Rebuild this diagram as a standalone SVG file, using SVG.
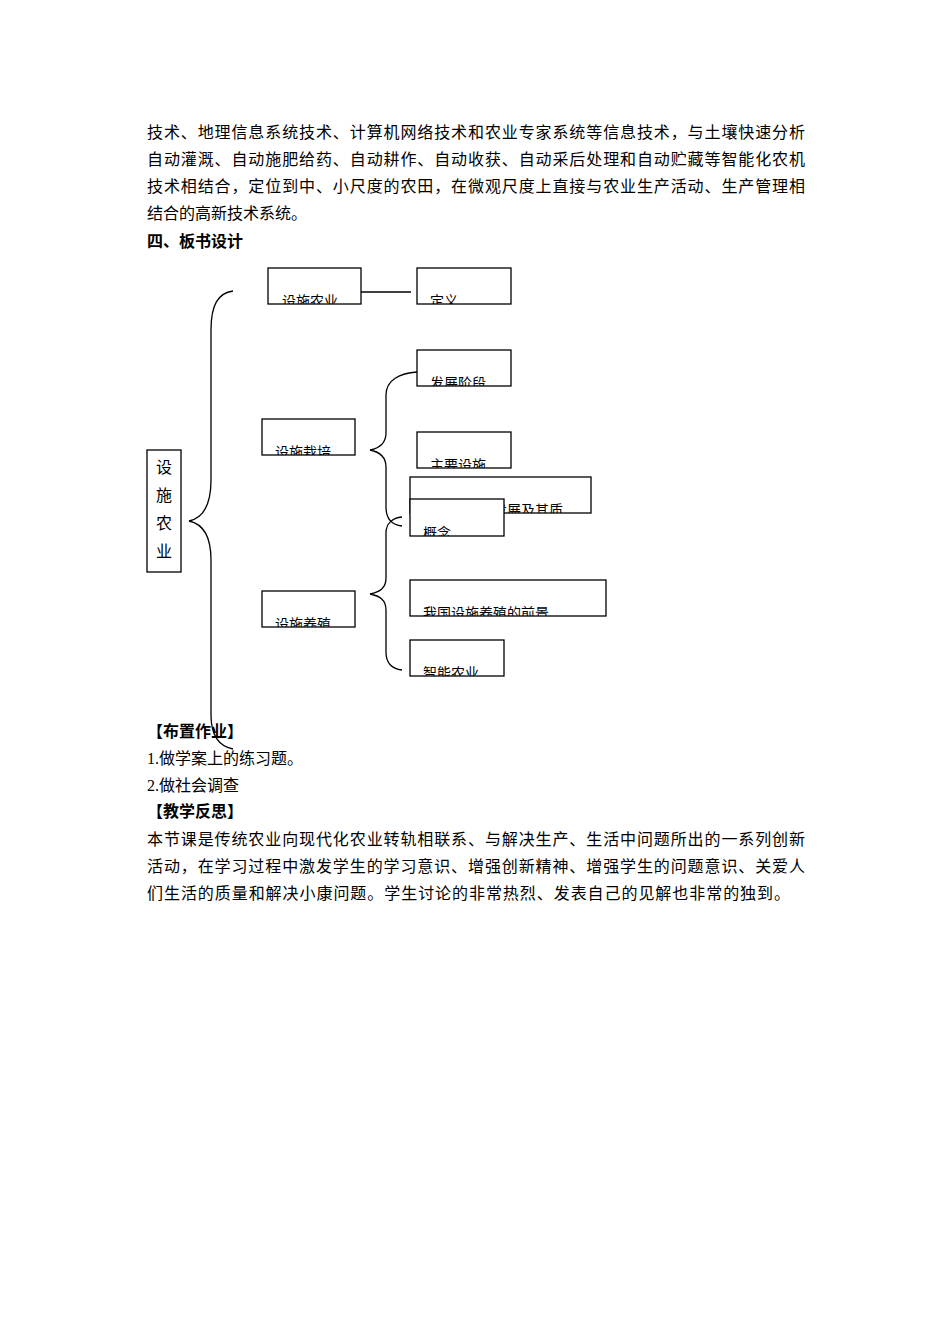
<svg xmlns="http://www.w3.org/2000/svg" width="950" height="1344" viewBox="0 0 950 1344">
<style>
.t{font-family:"Liberation Serif","Noto Sans CJK SC",serif;font-size:16px;fill:#000}
.b{font-weight:bold;font-family:"Noto Sans CJK SC",sans-serif}
.bx{fill:#fff;stroke:#000;stroke-width:1.3}
.bt{font-family:"Noto Sans CJK SC",sans-serif;font-size:14px;fill:#000}
.c{fill:none;stroke:#000;stroke-width:1.3}
</style>
<defs>
<clipPath id="k1"><rect x="268" y="268" width="93" height="36"/></clipPath>
<clipPath id="k2"><rect x="417" y="268" width="94" height="36"/></clipPath>
<clipPath id="k3"><rect x="417" y="350" width="94" height="36"/></clipPath>
<clipPath id="k4"><rect x="262" y="419" width="93" height="36"/></clipPath>
<clipPath id="k5"><rect x="417" y="432" width="94" height="36"/></clipPath>
<clipPath id="k6"><rect x="410" y="477" width="181" height="36"/></clipPath>
<clipPath id="k7"><rect x="410" y="499" width="94" height="37"/></clipPath>
<clipPath id="k8"><rect x="262" y="591" width="93" height="36"/></clipPath>
<clipPath id="k9"><rect x="410" y="580" width="196" height="36"/></clipPath>
<clipPath id="k10"><rect x="410" y="640" width="94" height="36"/></clipPath>
</defs>
<rect width="950" height="1344" fill="#fff"/>
<g id="text">
<text class="t" x="147" y="138" textLength="658">技术、地理信息系统技术、计算机网络技术和农业专家系统等信息技术，与土壤快速分析</text>
<text class="t" x="147" y="165" textLength="658">自动灌溉、自动施肥给药、自动耕作、自动收获、自动采后处理和自动贮藏等智能化农机</text>
<text class="t" x="147" y="192" textLength="658">技术相结合，定位到中、小尺度的农田，在微观尺度上直接与农业生产活动、生产管理相</text>
<text class="t" x="147" y="219">结合的高新技术系统。</text>
<text class="t b" x="147" y="247">四、板书设计</text>
<text class="t b" x="147" y="737">【布置作业】</text>
<text class="t" x="147" y="764">1.做学案上的练习题。</text>
<text class="t" x="147" y="791">2.做社会调查</text>
<text class="t b" x="147" y="817">【教学反思】</text>
<text class="t" x="147" y="845" textLength="658">本节课是传统农业向现代化农业转轨相联系、与解决生产、生活中问题所出的一系列创新</text>
<text class="t" x="147" y="872" textLength="658">活动，在学习过程中激发学生的学习意识、增强创新精神、增强学生的问题意识、关爱人</text>
<text class="t" x="147" y="899" textLength="643">们生活的质量和解决小康问题。学生讨论的非常热烈、发表自己的见解也非常的独到。</text>
</g>
<g id="connectors">
<path class="c" d="M361,292 L411,292"/>
<path class="c" d="M233,291 C218,293 211,305 211,330 L211,480 C211,505 203,518 189,521 C203,524 211,537 211,560 L211,715 C211,735 218,746 233,749"/>
<path class="c" d="M417,372 C400,373 386,380 386,395 L386,433 C386,443 380,448 370,450 C380,452 386,457 386,467 L386,507 C386,520 393,525 402,526"/>
<path class="c" d="M402,517 C393,518 386,523 386,533 L386,578 C386,588 380,592 370,594 C380,596 386,600 386,610 L386,652 C386,664 393,669 402,670"/>
</g>
<g id="n0"><rect class="bx" x="147" y="450" width="34" height="122"/>
<text class="t" x="156" y="473">设</text><text class="t" x="156" y="501">施</text><text class="t" x="156" y="529">农</text><text class="t" x="156" y="557">业</text></g>
<g id="n1"><rect class="bx" x="268" y="268" width="93" height="36"/><text class="bt" x="282" y="306" clip-path="url(#k1)">设施农业</text></g>
<g id="n2"><rect class="bx" x="417" y="268" width="94" height="36"/><text class="bt" x="430" y="306" clip-path="url(#k2)">定义</text></g>
<g id="n3"><rect class="bx" x="417" y="350" width="94" height="36"/><text class="bt" x="430" y="388" clip-path="url(#k3)">发展阶段</text></g>
<g id="n4"><rect class="bx" x="262" y="419" width="93" height="36"/><text class="bt" x="275" y="457" clip-path="url(#k4)">设施栽培</text></g>
<g id="n5"><rect class="bx" x="417" y="432" width="94" height="36"/><text class="bt" x="430" y="470" clip-path="url(#k5)">主要设施</text></g>
<g id="n6"><rect class="bx" x="410" y="477" width="181" height="36"/><text class="bt" x="423" y="515" clip-path="url(#k6)">设施栽培的发展及其质</text></g>
<g id="n7"><rect class="bx" x="410" y="499" width="94" height="37"/><text class="bt" x="423" y="538" clip-path="url(#k7)">概念</text></g>
<g id="n8"><rect class="bx" x="262" y="591" width="93" height="36"/><text class="bt" x="275" y="629" clip-path="url(#k8)">设施养殖</text></g>
<g id="n9"><rect class="bx" x="410" y="580" width="196" height="36"/><text class="bt" x="423" y="618" clip-path="url(#k9)">我国设施养殖的前景</text></g>
<g id="n10"><rect class="bx" x="410" y="640" width="94" height="36"/><text class="bt" x="423" y="678" clip-path="url(#k10)">智能农业</text></g>
</svg>
